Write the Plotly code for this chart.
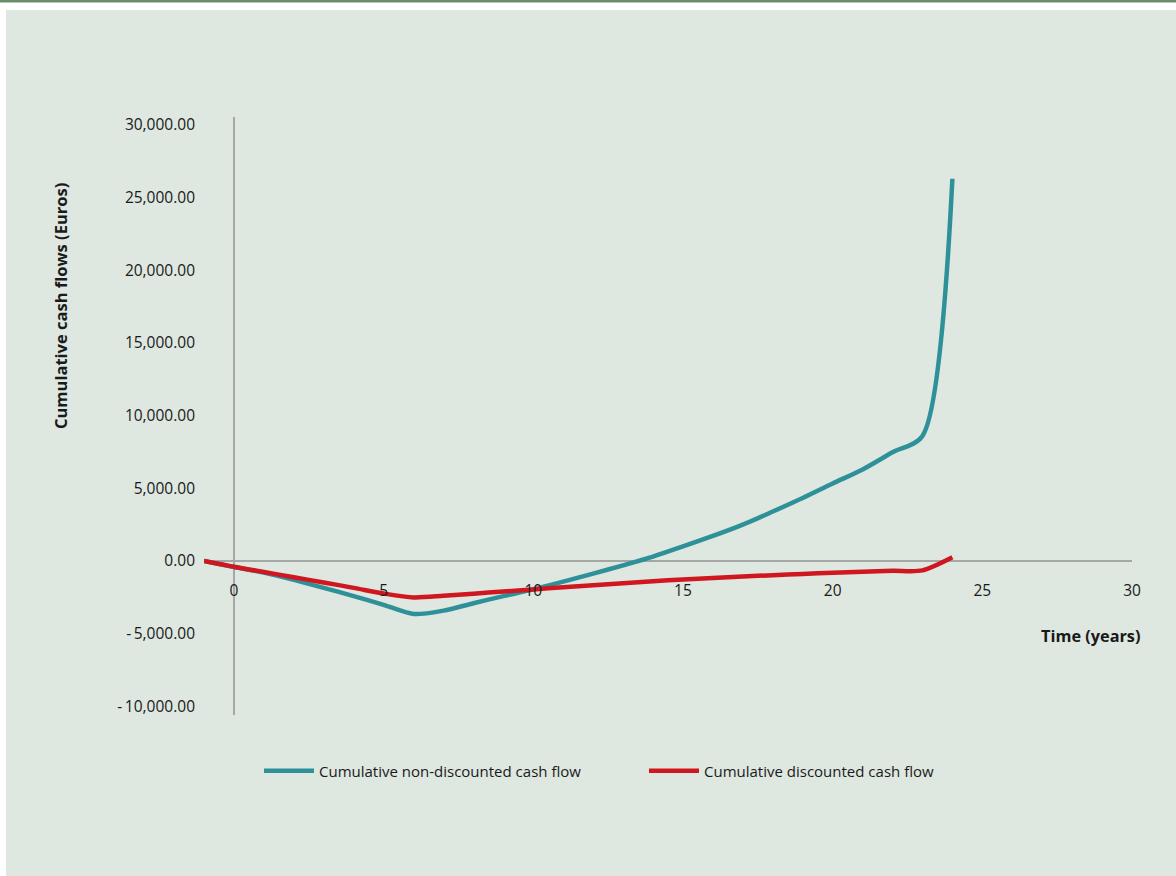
import plotly.graph_objects as go

years = list(range(-1, 25))
non_discounted = [0, -420, -800, -1300, -1850, -2420, -3020, -3650, -3420, -2910, -2420, -1950,
                  -1420, -870, -300, 300, 1000, 1720, 2500, 3400, 4330, 5330, 6300, 7480, 8600, 26300]
discounted = [0, -400, -760, -1120, -1480, -1850, -2240, -2510, -2400, -2250, -2100, -1960,
              -1810, -1670, -1530, -1400, -1270, -1170, -1070, -980, -890, -810, -740, -680, -650, 250]

y_tickvals = [-10000, -5000, 0, 5000, 10000, 15000, 20000, 25000, 30000]
y_ticktext = ["-\u200910,000.00", "-\u20095,000.00", "0.00", "5,000.00", "10,000.00",
              "15,000.00", "20,000.00", "25,000.00", "30,000.00"]
x_tickvals = [0, 5, 10, 15, 20, 25, 30]

BG = "#dee7e0"
TEAL = "#2e9199"
RED = "#d0161f"
FONT = "Open Sans"
TXT = "#1a1a1a"

fig = go.Figure()
fig.add_trace(go.Scatter(x=years, y=non_discounted, mode="lines",
                         name="Cumulative non-discounted cash flow",
                         line=dict(color=TEAL, width=4.5, shape="spline", smoothing=0.8)))
fig.add_trace(go.Scatter(x=years, y=discounted, mode="lines",
                         name="Cumulative discounted cash flow",
                         line=dict(color=RED, width=4.5, shape="spline", smoothing=0.8)))

W, H = 1176, 876
L, R, T, B = 204, 44, 117, 161
pw, ph = W - L - R, H - T - B

def px(xp):
    return (xp - L) / pw

def py(yp):
    return (H - B - yp) / ph

shapes = [
    dict(type="rect", xref="paper", yref="paper", x0=px(0), x1=px(W), y0=py(0), y1=py(H),
         fillcolor="white", line=dict(width=0), layer="below"),
    dict(type="rect", xref="paper", yref="paper", x0=px(6), x1=px(W), y0=py(10), y1=py(H),
         fillcolor=BG, line=dict(width=0), layer="below"),
    dict(type="rect", xref="paper", yref="paper", x0=px(0), x1=px(W), y0=py(0), y1=py(2.5),
         fillcolor="#6a8e6c", line=dict(width=0), layer="below"),
]

zero_frac = (30550 - 0) / (30550 + 10600)

fig.update_layout(
    width=W, height=H,
    margin=dict(l=L, r=R, t=T, b=B),
    paper_bgcolor=BG,
    plot_bgcolor="rgba(0,0,0,0)",
    font=dict(family=FONT, size=15, color=TXT),
    shapes=shapes,
    showlegend=True,
    legend=dict(orientation="h", x=px(259), y=py(771), xanchor="left", yanchor="middle",
                font=dict(size=15, family=FONT, color=TXT), itemwidth=50,
                bgcolor="rgba(0,0,0,0)", entrywidth=320, entrywidthmode="pixels"),
    xaxis=dict(range=[-1, 30], tickvals=x_tickvals, showgrid=False, showline=False,
               zeroline=True, zerolinecolor="#a5a7a5", zerolinewidth=1.6,
               anchor="free", position=1 - zero_frac, ticks="", ticklabelstandoff=19,
               tickfont=dict(size=15.5, family=FONT, color=TXT)),
    yaxis=dict(range=[-10600, 30550], tickvals=y_tickvals, ticktext=y_ticktext,
               showgrid=False, showline=False, zeroline=True, zerolinecolor="#a5a7a5",
               zerolinewidth=1.6, ticks="", ticklabelstandoff=8,
               tickfont=dict(size=15.5, family=FONT, color=TXT)),
    annotations=[
        dict(text="<b>Time (years)</b>", xref="paper", yref="paper", x=px(1142), y=py(636),
             xanchor="right", yanchor="middle", showarrow=False,
             font=dict(size=16.3, family=FONT, color=TXT)),
        dict(text="<b>Cumulative cash flows (Euros)</b>", xref="paper", yref="paper",
             x=px(60), y=py(306), xanchor="center", yanchor="middle", textangle=-90,
             showarrow=False, font=dict(size=16.5, family=FONT, color=TXT)),
    ],
)

fig.write_html("out.html", config={"displayModeBar": False},
               post_script="document.body.style.margin='0';")
